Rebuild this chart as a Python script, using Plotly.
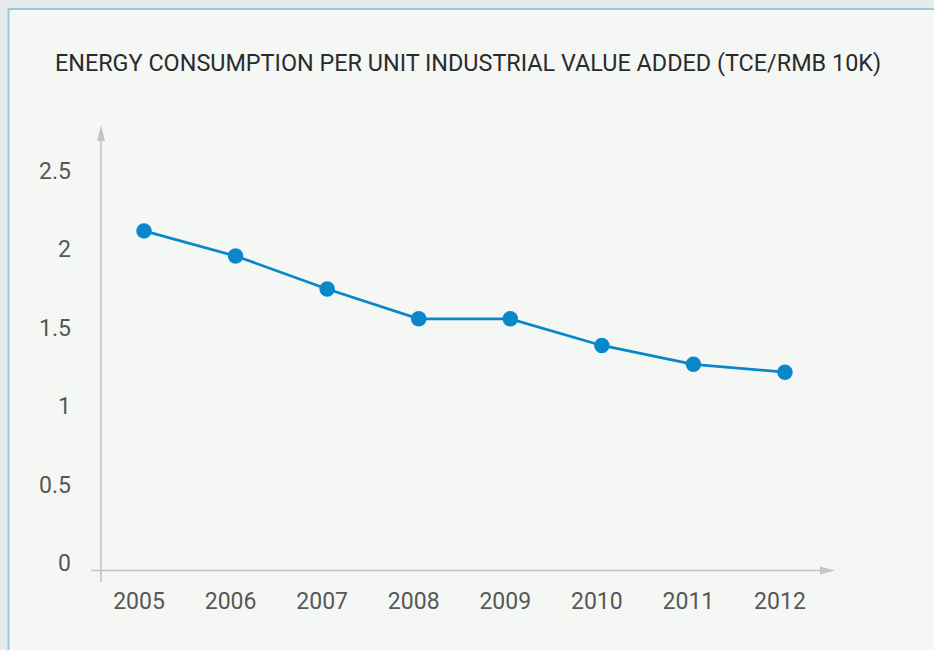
import plotly.graph_objects as go

years = [2005, 2006, 2007, 2008, 2009, 2010, 2011, 2012]
values = [2.16, 2.00, 1.79, 1.60, 1.60, 1.43, 1.31, 1.26]
y_tick_vals = [0, 0.5, 1, 1.5, 2, 2.5]
y_tick_text = ["0", "0.5", "1", "1.5", "2", "2.5"]
title_text = "ENERGY CONSUMPTION PER UNIT INDUSTRIAL VALUE ADDED (TCE/RMB 10K)"

W, H = 934, 650
L, R, T, B = 91, 834, 125, 582


def px(x):
    return (x - L) / (R - L)


def py(y):
    return (B - y) / (B - T)


AX = "#c3c4c6"
BLUE = "#0a87c9"

fig = go.Figure()
fig.add_trace(go.Scatter(
    x=years, y=values, mode="lines+markers",
    line=dict(color=BLUE, width=2.8),
    marker=dict(color=BLUE, size=15.5),
    hoverinfo="skip", showlegend=False, cliponaxis=False,
))

shapes = [
    # panel
    dict(type="rect", xref="paper", yref="paper", layer="below",
         x0=px(8.5), x1=px(960), y0=py(9), y1=py(700),
         fillcolor="#f5f7f5", line=dict(color="#92cbe8", width=2)),
    # y axis line
    dict(type="line", xref="paper", yref="paper", layer="above",
         x0=px(101), x1=px(101), y0=py(582), y1=py(139),
         line=dict(color=AX, width=1.6)),
    # y arrow
    dict(type="path", xref="paper", yref="paper", layer="above",
         path=f"M {px(97)} {py(141)} L {px(101)} {py(125)} L {px(105)} {py(141)} Z",
         fillcolor=AX, line=dict(width=0)),
    # x axis line
    dict(type="line", xref="paper", yref="paper", layer="above",
         x0=px(91), x1=px(821), y0=py(570.5), y1=py(570.5),
         line=dict(color=AX, width=1.6)),
    # x arrow
    dict(type="path", xref="paper", yref="paper", layer="above",
         path=f"M {px(820)} {py(566.5)} L {px(835)} {py(570.5)} L {px(820)} {py(574.5)} Z",
         fillcolor=AX, line=dict(width=0)),
]

fig.update_layout(
    width=W, height=H,
    margin=dict(l=L, r=W - R, t=T, b=H - B, pad=0),
    paper_bgcolor="#e9eaec",
    plot_bgcolor="rgba(0,0,0,0)",
    shapes=shapes,
    font=dict(family="Roboto", color="#575757"),
    title=dict(text=title_text, x=468 / W, xanchor="center", xref="container",
               y=1 - 63 / H, yanchor="middle", yref="container",
               font=dict(family="Roboto", size=23.4, color="#2b2b2b")),
    xaxis=dict(range=[2004.4212, 2012.5353], tickvals=years,
               showgrid=False, zeroline=False, showline=False, ticks="",
               tickfont=dict(size=23, color="#575757"),
               ticklabelshift=-5, ticklabelstandoff=3, fixedrange=True),
    yaxis=dict(range=[-0.0764, 2.8344], tickvals=y_tick_vals, ticktext=y_tick_text,
               showgrid=False, zeroline=False, showline=False, ticks="",
               tickfont=dict(size=23, color="#575757"),
               ticklabelshift=-7, ticklabelstandoff=19, fixedrange=True),
)

post = ("document.body.style.margin='0';document.body.style.padding='0';"
        "document.body.style.overflow='hidden';"
        "document.documentElement.style.overflow='hidden';")
fig.write_html("out.html", post_script=post, config={"displayModeBar": False})
